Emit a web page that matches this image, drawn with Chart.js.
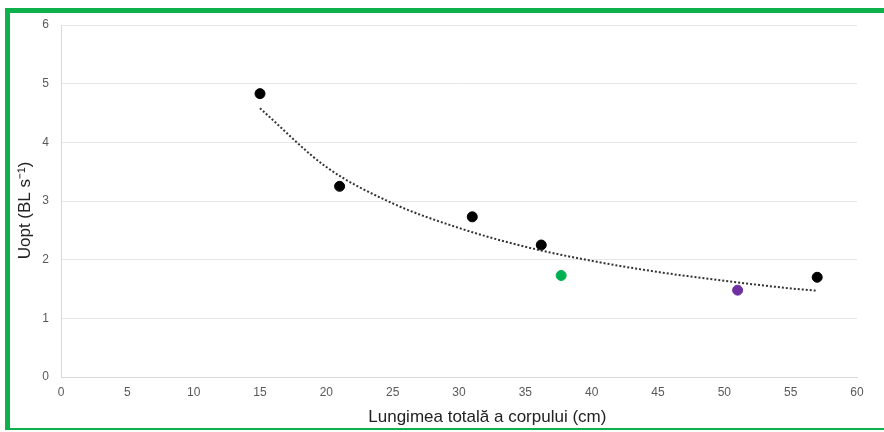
<!DOCTYPE html>
<html>
<head>
<meta charset="utf-8">
<script src="https://cdn.jsdelivr.net/npm/chart.js@4"></script>
<style>
  html, body { margin: 0; padding: 0; background: #fff; overflow: hidden; }
  #wrap { position: relative; width: 884px; height: 432px; }
  #frame {
    position: absolute; left: 5px; top: 8px; width: 900px; height: 415px;
    border-left: 5px solid #0db14b; border-top: 5px solid #0db14b; border-bottom: 2px solid #0db14b;
  }
  canvas { position: absolute; left: 0; top: 0; }
</style>
</head>
<body>
<div id="wrap">
  <div id="frame"></div>
  <canvas id="myChart" width="884" height="432"></canvas>
</div>
<script>
// measured points (length in cm, Uopt in BL/s)
const blackX = [15, 21, 31, 36.2, 57];
const blackY = [4.83, 3.25, 2.73, 2.25, 1.70];
const greenX = [37.7];
const greenY = [1.73];
const purpleX = [51];
const purpleY = [1.48];

// dotted trend line
const trendX = [15, 20, 25, 30, 35, 40, 45, 50, 55, 57];
const trendY = [4.58, 3.58, 2.96, 2.54, 2.22, 1.98, 1.79, 1.64, 1.51, 1.47];

const xTicks = [0, 5, 10, 15, 20, 25, 30, 35, 40, 45, 50, 55, 60];
const yTicks = [0, 1, 2, 3, 4, 5, 6];

function toPoints(xs, ys) {
  return xs.map((x, i) => ({ x: x, y: ys[i] }));
}

const ctx = document.getElementById('myChart').getContext('2d');

new Chart(ctx, {
  type: 'scatter',
  data: {
    datasets: [{
      type: 'line',
      data: toPoints(trendX, trendY),
      borderColor: '#333333',
      borderWidth: 2,
      borderDash: [2, 2],
      pointRadius: 0,
      tension: 0.4,
      cubicInterpolationMode: 'monotone',
      fill: false,
    }, {
      data: toPoints(blackX, blackY),
      backgroundColor: '#000000',
      borderColor: '#000000',
      pointRadius: 5,
    }, {
      data: toPoints(greenX, greenY),
      backgroundColor: '#00b050',
      borderColor: '#00b050',
      pointRadius: 5,
    }, {
      data: toPoints(purpleX, purpleY),
      backgroundColor: '#7030a0',
      borderColor: '#7030a0',
      pointRadius: 5,
    }],
  },
  options: {
    responsive: false,
    animation: false,
    layout: { padding: { top: 25, right: 27, left: 0, bottom: 0 } },
    plugins: {
      legend: { display: false },
      tooltip: { enabled: false },
    },
    scales: {
      x: {
        type: 'linear',
        min: 0,
        max: 60,
        afterBuildTicks: axis => { axis.ticks = xTicks.map(v => ({ value: v })); },
        afterFit: axis => { axis.height = 55; },
        grid: { display: false, drawTicks: false },
        border: { color: '#d9d9d9', width: 1 },
        ticks: {
          color: '#595959',
          font: { family: 'Liberation Sans', size: 12 },
          padding: 8,
          maxRotation: 0,
        },
        title: {
          display: true,
          text: '            Lungimea totală a corpului (cm)',
          color: '#222222',
          font: { family: 'Liberation Sans', size: 17 },
          padding: { top: 0 },
        },
      },
      y: {
        min: 0,
        max: 6,
        afterBuildTicks: axis => { axis.ticks = yTicks.map(v => ({ value: v })); },
        afterFit: axis => { axis.width = 61; },
        grid: { color: '#e6e6e6', lineWidth: 1, drawTicks: false },
        border: { color: '#d9d9d9', width: 1 },
        ticks: {
          color: '#595959',
          font: { family: 'Liberation Sans', size: 12 },
          padding: 12,
        },
        title: {
          display: true,
          text: 'Uopt (BL s⁻¹)    ',
          color: '#222222',
          font: { family: 'Liberation Sans', size: 17 },
          padding: { top: 15, bottom: 0 },
        },
      },
    },
  },
});
</script>
</body>
</html>
